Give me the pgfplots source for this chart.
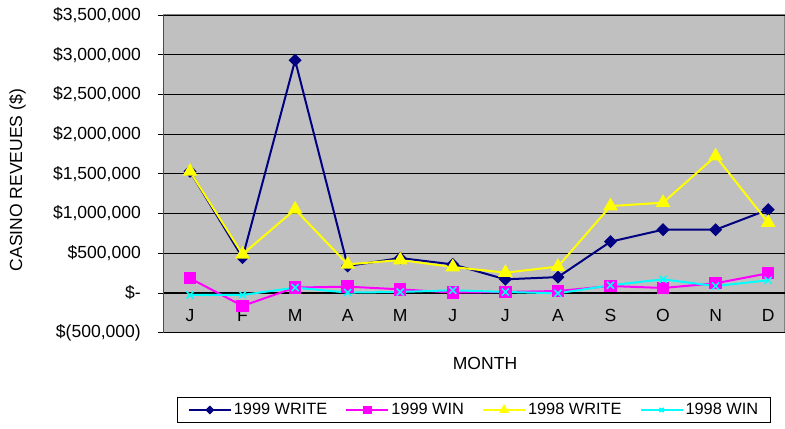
\documentclass[border=0pt]{standalone}
\usepackage{fontspec}
\setmainfont{Liberation Sans}
\usepackage{pgfplots}
\usepackage{pgfplotstable}
\pgfplotsset{compat=1.18}

\definecolor{plotbg}{RGB}{192,192,192}
\definecolor{bordergray}{RGB}{128,128,128}
\definecolor{navy}{RGB}{0,0,128}
\definecolor{mag}{RGB}{255,0,255}
\definecolor{yel}{RGB}{255,255,0}
\definecolor{cya}{RGB}{0,255,255}

% month index, revenues in $
\pgfplotstableread{
m  write99  win99   write98  win98
0  1530000  185000  1530000  -25000
1  445000   -163000 487000   -25000
2  2930000  68000   1053000  68000
3  340000   80000   360000   5000
4  440000   46000   415000   13000
5  360000   5000    327000   34000
6  172000   13000   256000   13000
7  200000   25000   332000   -4000
8  646000   88000   1094000  97000
9  797000   63000   1137000  172000
10 797000   122000  1723000  88000
11 1049000  248000  885000   160000
}\revtable

\begin{document}
\begin{tikzpicture}
\begin{axis}[
    scale only axis,
    width=621.7bp, height=317.7bp,
    xmin=-0.508, xmax=11.32,
    ymin=-500000, ymax=3500000,
    axis x line=middle, axis y line=left,
    axis line style={-},
    x axis line style={black, line width=1bp},
    y axis line style={bordergray!60!black, line width=1.3bp},
    axis background/.style={fill=plotbg, draw=bordergray, line width=1.3bp},
    font=\fontsize{17.6}{20}\selectfont,
    xtick={0,...,11},
    xticklabels={J,F,M,A,M,J,J,A,S,O,N,D},
    x tick style={draw=none},
    xticklabel style={yshift=-8bp},
    extra x ticks={0.5,1.5,...,10.5},
    extra x tick labels={},
    extra x tick style={major tick length=5bp, tick align=outside,
        tick style={draw=black, line width=0.8bp}},
    ytick={-500000,0,500000,1000000,1500000,2000000,2500000,3000000,3500000},
    yticklabels={{\$(500,000)},{\$-\hspace{8bp}},{\$500,000},{\$1,000,000},{\$1,500,000},{\$2,000,000},{\$2,500,000},{\$3,000,000},{\$3,500,000}},
    yticklabel style={xshift=-14bp},
    scaled y ticks=false,
    y tick style={black, line width=0.8bp},
    major tick length=5bp,
    tick align=outside,
    ymajorgrids,
    grid style={black, line width=0.9bp},
    xlabel={MONTH},
    xlabel style={at={(axis description cs:0.5175,-0.0976)}, anchor=center},
    ylabel={CASINO REVEUES (\$)},
    ylabel style={at={(axis description cs:-0.2345,0.48)}, anchor=center, rotate=0},
    legend columns=4,
    legend style={at={(axis description cs:0.4998,-0.2433)}, anchor=center,
        draw=black, fill=white, line width=0.8bp,
        font=\fontsize{16.4}{19}\selectfont,
        inner xsep=10bp, inner ysep=4bp,
        /tikz/every even column/.append style={column sep=16bp}},
    legend image code/.code={
        \draw[mark repeat=2, mark phase=2, /tikz/every mark/.append style={scale=0.6}]
        plot coordinates {(0bp,0bp) (21bp,0bp) (42bp,0bp)};},
    every axis plot/.append style={line width=2bp},
]
\addplot[color=navy, mark=square*, mark size=3.6bp, mark options={rotate=45, fill=navy}]
    table[x=m, y=write99] {\revtable};
\addplot[color=mag, mark=square*, mark size=5.2bp, mark options={fill=mag}]
    table[x=m, y=win99] {\revtable};
\addplot[color=yel, mark=triangle*, mark size=6.5bp, mark options={fill=yel}]
    table[x=m, y=write98] {\revtable};
\addplot[color=cya, mark=x, mark size=5bp, mark options={line width=1.5bp}]
    table[x=m, y=win98] {\revtable};
\legend{1999 WRITE, 1999 WIN, 1998 WRITE, 1998 WIN}
\end{axis}
\pgfresetboundingbox
\path[use as bounding box] ([shift={(-163.3bp,-96.3bp)}]current axis.south west)
    rectangle ([shift={(621.7bp,332.7bp)}]current axis.south west);
\end{tikzpicture}
\end{document}
